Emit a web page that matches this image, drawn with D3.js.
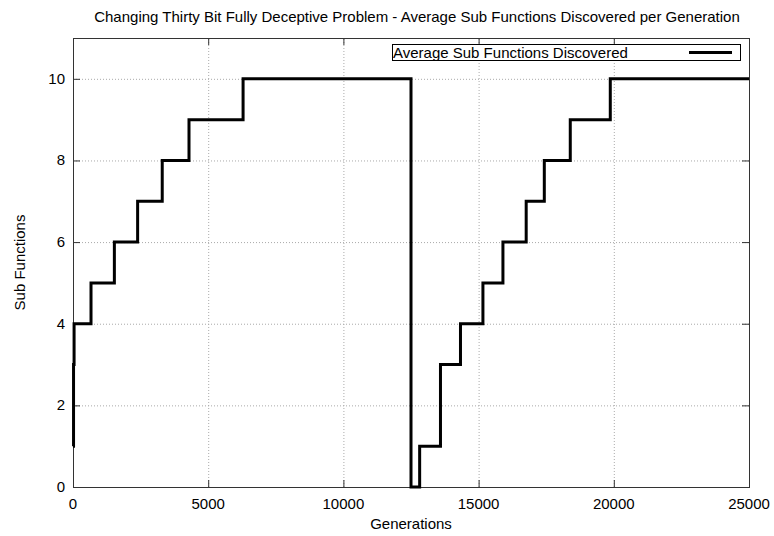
<!DOCTYPE html>
<html>
<head>
<meta charset="utf-8">
<script src="https://cdn.jsdelivr.net/npm/d3@7"></script>
<style>
    body { margin: 0; background: #fff; }
    svg text { font-family: "Liberation Sans", Arial, sans-serif; fill: #000; }
</style>
</head>
<body>
<svg id="chart" width="774" height="536"></svg>
<script>
// data (step-after)
const generations = [0, 20, 40, 666, 1530, 2390, 3300, 4290, 6290, 12500, 12820, 13590, 14330, 15160, 15900, 16760, 17430, 18390, 19870, 25000]
const subFunctions = [1, 3, 4, 5, 6, 7, 8, 9, 10, 0, 1, 3, 4, 5, 6, 7, 8, 9, 10, 10]
const xTicks = [0, 5000, 10000, 15000, 20000, 25000]
const yTicks = [0, 2, 4, 6, 8, 10]

const title = "Changing Thirty Bit Fully Deceptive Problem - Average Sub Functions Discovered per Generation"
const seriesName = "Average Sub Functions Discovered"

// layout
const margin = {left: 73, right: 25, top: 38, bottom: 49}
const W = 774, H = 536
const svg = d3.select("#chart")

const x = d3.scaleLinear().domain([0, 25000]).range([margin.left, W - margin.right])
const y = d3.scaleLinear().domain([0, 11]).range([H - margin.bottom, margin.top])

const x0 = x.range()[0], x1 = x.range()[1]
const y0 = y.range()[0], y1 = y.range()[1]

// grid
const grid = svg.append("g")
    .attr("stroke", "#aaa").attr("stroke-width", 1).attr("stroke-dasharray", "1,2")
grid.selectAll(".gx").data(xTicks.filter(d => d > 0 && d < 25000)).join("line")
    .attr("x1", d => x(d) + 0.5).attr("x2", d => x(d) + 0.5)
    .attr("y1", y0).attr("y2", y1)
grid.selectAll(".gy").data(yTicks.filter(d => d > 0)).join("line")
    .attr("y1", d => y(d) + 0.5).attr("y2", d => y(d) + 0.5)
    .attr("x1", x0).attr("x2", x1)

// axes, ticks pointing inwards and mirrored
const tk = 7
svg.append("g").attr("transform", `translate(0,${y0})`)
    .call(d3.axisTop(x).tickValues(xTicks).tickSize(tk).tickFormat(""))
svg.append("g").attr("transform", `translate(0,${y1})`)
    .call(d3.axisBottom(x).tickValues(xTicks).tickSize(tk).tickFormat(""))
svg.append("g").attr("transform", `translate(${x0},0)`)
    .call(d3.axisRight(y).tickValues(yTicks).tickSize(tk).tickFormat(""))
svg.append("g").attr("transform", `translate(${x1},0)`)
    .call(d3.axisLeft(y).tickValues(yTicks).tickSize(tk).tickFormat(""))
svg.selectAll(".domain").remove()
svg.selectAll(".tick line").attr("stroke", "#333")

// tick labels
svg.append("g").selectAll("text").data(xTicks).join("text")
    .attr("x", d => x(d)).attr("y", y0 + 22)
    .attr("text-anchor", "middle").attr("font-size", 15)
    .text(d => d)
svg.append("g").selectAll("text").data(yTicks).join("text")
    .attr("x", x0 - 8).attr("y", d => y(d) + 5)
    .attr("text-anchor", "end").attr("font-size", 15)
    .text(d => d)

// border
svg.append("rect")
    .attr("x", x0 + 0.5).attr("y", y1 + 0.5)
    .attr("width", x1 - x0).attr("height", y0 - y1)
    .attr("fill", "none").attr("stroke", "#333").attr("stroke-width", 1)

// step line
const pts = generations.map((g, i) => [g, subFunctions[i]])
const line = d3.line().x(d => x(d[0])).y(d => y(d[1])).curve(d3.curveStepAfter)
svg.append("path").datum(pts)
    .attr("d", line)
    .attr("fill", "none").attr("stroke", "#000").attr("stroke-width", 3)
    .attr("stroke-linejoin", "miter")

// legend
const lg = svg.append("g")
lg.append("rect").attr("x", 392.5).attr("y", 44.5).attr("width", 348).attr("height", 16)
    .attr("fill", "#fff").attr("stroke", "#000").attr("stroke-width", 1)
lg.append("text").attr("x", 393).attr("y", 58).attr("font-size", 15).text(seriesName)
lg.append("line").attr("x1", 689).attr("x2", 732).attr("y1", 52.5).attr("y2", 52.5)
    .attr("stroke", "#000").attr("stroke-width", 3)

// titles
svg.append("text").attr("x", 417).attr("y", 22)
    .attr("text-anchor", "middle").attr("font-size", 15).text(title)
svg.append("text").attr("x", (x0 + x1) / 2).attr("y", 529)
    .attr("text-anchor", "middle").attr("font-size", 15).text("Generations")
svg.append("text").attr("transform", `translate(25,${(y0 + y1) / 2}) rotate(-90)`)
    .attr("text-anchor", "middle").attr("font-size", 15).text("Sub Functions")
</script>
</body>
</html>
